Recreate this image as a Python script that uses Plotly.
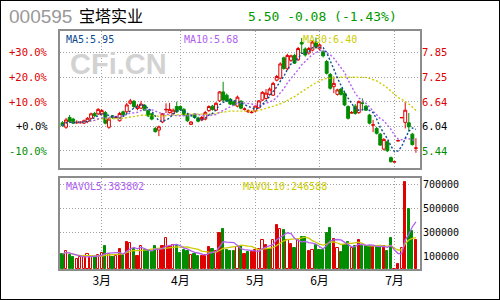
import plotly.graph_objects as go
import pandas as pd

W, H = 500, 300

# ---------------- data ----------------
opens = [6.12, 6.01, 6.25, 6.21, 6.12, 6.12, 6.11, 6.15, 6.23, 6.35,
         6.34, 6.34, 6.37, 6.01, 6.29, 6.25, 6.17, 6.39, 6.39, 6.60,
         6.65, 6.47, 6.48, 6.55, 6.42, 6.34, 5.98, 5.94, 6.14, 6.44,
         6.37, 6.35, 6.52, 6.52, 6.45, 6.31, 6.08, 6.33, 6.24, 6.19,
         6.21, 6.42, 6.53, 6.43, 6.66, 6.88, 6.80, 6.70, 6.64, 6.53,
         6.65, 6.45, 6.39, 6.37, 6.41, 6.49, 6.68, 6.72, 6.82, 6.80,
         7.17, 7.22, 7.72, 7.45, 7.66, 7.78, 7.67, 8.10, 7.94, 7.84,
         7.91, 8.11, 7.94, 7.87, 7.63, 7.31, 7.01, 6.82, 6.95, 6.85,
         6.52, 6.36, 6.53, 6.37, 6.61, 6.53, 6.31, 6.06, 5.98, 5.84,
         5.47, 5.65, 5.26, 5.15, 5.67, 6.24, 6.13, 6.12, 5.84, 5.49]
highs = [6.16, 6.24, 6.31, 6.24, 6.18, 6.16, 6.20, 6.26, 6.37, 6.39,
         6.48, 6.46, 6.41, 6.25, 6.31, 6.29, 6.39, 6.42, 6.61, 6.71,
         6.68, 6.58, 6.66, 6.58, 6.43, 6.36, 6.02, 6.05, 6.36, 6.60,
         6.61, 6.47, 6.64, 6.55, 6.48, 6.34, 6.16, 6.36, 6.27, 6.29,
         6.41, 6.55, 6.56, 6.63, 6.90, 7.13, 6.84, 6.73, 6.67, 6.79,
         6.68, 6.50, 6.45, 6.42, 6.56, 6.68, 6.90, 6.95, 6.99, 7.13,
         7.30, 7.61, 7.75, 7.82, 7.80, 7.82, 7.99, 8.21, 7.98, 7.99,
         8.15, 8.22, 8.07, 7.91, 7.67, 7.35, 7.26, 6.96, 6.98, 6.88,
         6.55, 6.41, 6.58, 6.67, 6.72, 6.56, 6.34, 6.19, 6.02, 5.87,
         5.74, 5.68, 5.29, 5.16, 5.68, 6.25, 6.64, 6.36, 5.87, 5.74]
lows = [6.02, 5.97, 6.11, 6.09, 6.09, 6.10, 6.09, 6.11, 6.20, 6.26,
        6.31, 6.30, 6.08, 5.97, 6.22, 6.22, 6.15, 6.29, 6.36, 6.57,
        6.48, 6.43, 6.46, 6.41, 6.26, 6.18, 5.88, 5.79, 6.11, 6.36,
        6.35, 6.32, 6.36, 6.42, 6.29, 6.14, 6.07, 6.22, 6.13, 6.16,
        6.18, 6.39, 6.42, 6.41, 6.63, 6.64, 6.63, 6.56, 6.53, 6.50,
        6.45, 6.42, 6.36, 6.35, 6.39, 6.47, 6.66, 6.69, 6.79, 6.78,
        7.14, 7.19, 7.43, 7.42, 7.62, 7.57, 7.64, 7.84, 7.75, 7.80,
        7.88, 7.94, 7.90, 7.73, 7.31, 6.94, 6.85, 6.79, 6.79, 6.53,
        6.20, 6.34, 6.32, 6.34, 6.43, 6.41, 6.08, 5.89, 5.83, 5.55,
        5.44, 5.40, 5.14, 5.15, 5.67, 6.24, 5.98, 5.90, 5.56, 5.38]
closes = [6.05, 6.19, 6.15, 6.11, 6.13, 6.13, 6.17, 6.23, 6.34, 6.29,
          6.45, 6.42, 6.11, 6.21, 6.25, 6.26, 6.35, 6.31, 6.56, 6.66,
          6.52, 6.53, 6.58, 6.43, 6.29, 6.21, 5.90, 6.02, 6.34, 6.45,
          6.45, 6.43, 6.39, 6.45, 6.31, 6.17, 6.14, 6.25, 6.16, 6.25,
          6.37, 6.52, 6.45, 6.60, 6.88, 6.68, 6.66, 6.58, 6.56, 6.75,
          6.48, 6.46, 6.41, 6.38, 6.53, 6.66, 6.87, 6.85, 6.95, 7.09,
          7.26, 7.57, 7.46, 7.78, 7.77, 7.59, 7.95, 8.06, 7.79, 7.95,
          8.11, 7.99, 8.04, 7.77, 7.34, 6.97, 7.09, 6.93, 6.82, 6.56,
          6.23, 6.37, 6.35, 6.64, 6.60, 6.43, 6.11, 6.07, 5.86, 5.57,
          5.71, 5.43, 5.16, 5.16, 5.68, 6.25, 6.43, 6.02, 5.58, 5.50]
volumes = [121000, 148000, 115000, 93000, 77000, 98000, 98000, 121000, 98000, 93000,
           110000, 127000, 188000, 121000, 98000, 104000, 163000, 115000, 221000, 213000,
           165000, 104000, 188000, 157000, 148000, 138000, 188000, 165000, 188000, 254000,
           177000, 198000, 188000, 132000, 154000, 148000, 115000, 121000, 107000, 104000,
           115000, 179000, 165000, 148000, 298000, 329000, 157000, 148000, 148000, 179000,
           190000, 121000, 138000, 138000, 157000, 163000, 238000, 198000, 165000, 238000,
           363000, 329000, 321000, 238000, 202000, 169000, 238000, 260000, 260000, 148000,
           154000, 198000, 157000, 157000, 298000, 338000, 243000, 171000, 138000, 198000,
           221000, 171000, 185000, 238000, 185000, 185000, 185000, 182000, 182000, 182000,
           185000, 148000, 254000, 0, 37000, 171000, 721000, 496000, 315000, 240000]
# R = red filled, H = red hollow, G = green filled
vol_kind = list("GHGGHHHHHG" "HHGHGHRGRH" "GRHGGGGHRH" "RHGGGGHGGR" "RRGHRGGGGH"
                "GRGRRHHRGH" "RHGHRGHGGR" "HGGGGGRHGG" "GHGRGGGRGG" "RGGRRHRGGR")

month_ticks = [11, 33, 54, 72, 93]
month_labels = ["3月", "4月", "5月", "6月", "7月"]

base_price = 6.04
pct_ticks = [0.30, 0.20, 0.10, 0.0, -0.10]
pct_labels = ["+30.0%", "+20.0%", "+10.0%", "+0.0%", "-10.0%"]
vol_ticks = [700000, 500000, 300000, 100000]
vol_grid = [700000, 500000, 300000]

code = "000595"
name = "宝塔实业"
quote = "5.50 -0.08 (-1.43%)"
ma_legend = ["MA5:5.95", "MA10:5.68", "MA30:6.40"]
vol_legend = ["MAVOL5:383802", "MAVOL10:246588"]

# ---------------- styles ----------------
RED = "#E00000"
GREEN = "#008C00"
MA5C = "#0A4A90"
MA10C = "#B060F0"
MA30C = "#CCCC00"
GRID = "#A0A0A0"
FRAME = "#8C8C8C"
MONO = "DejaVu Sans Mono"
CJK = "Noto Sans CJK SC"


def px(x):
    return x / W


def py(y):
    return 1 - y / H


idx = list(range(len(closes)))
cs = pd.Series(closes)
vs = pd.Series(volumes)
ma5 = cs.rolling(5, min_periods=1).mean()
ma10 = cs.rolling(10, min_periods=1).mean()
ma30 = cs.rolling(30, min_periods=1).mean()
mv5 = vs.rolling(5, min_periods=1).mean()
mv10 = vs.rolling(10, min_periods=1).mean()

fig = go.Figure()
fig.add_trace(go.Candlestick(
    x=idx, open=opens, high=highs, low=lows, close=closes,
    increasing=dict(line=dict(color=RED, width=1), fillcolor="white"),
    decreasing=dict(line=dict(color=GREEN, width=1), fillcolor=GREEN),
    whiskerwidth=0, xaxis="x", yaxis="y", hoverinfo="skip"))
for s, c in [(ma30, MA30C), (ma10, MA10C), (ma5, MA5C)]:
    fig.add_trace(go.Scatter(x=idx, y=s, mode="lines", xaxis="x", yaxis="y",
                             line=dict(color=c, width=1.4, dash="2px,2px"),
                             hoverinfo="skip"))

bar_fill = [RED if k == "R" else ("white" if k == "H" else GREEN) for k in vol_kind]
bar_line = [GREEN if k == "G" else RED for k in vol_kind]
fig.add_trace(go.Bar(x=idx, y=volumes, xaxis="x2", yaxis="y2", width=0.62,
                     marker=dict(color=bar_fill, line=dict(color=bar_line, width=1)),
                     hoverinfo="skip"))
fig.add_trace(go.Scatter(x=idx, y=mv10, mode="lines", xaxis="x2", yaxis="y2",
                         line=dict(color=MA30C, width=1.3), hoverinfo="skip"))
fig.add_trace(go.Scatter(x=idx, y=mv5, mode="lines", xaxis="x2", yaxis="y2",
                         line=dict(color=MA10C, width=1.3), hoverinfo="skip"))

xdom = [px(60), px(420)]
xr = [-0.7, 100.14]
axis_common = dict(showline=True, mirror=True, linecolor=FRAME, linewidth=1.5,
                   zeroline=False, ticks="", showgrid=True, gridcolor=GRID,
                   gridwidth=1, griddash="1px,2px", fixedrange=True)

price_ticks = [base_price * (1 + p) for p in pct_ticks]

fig.update_layout(
    width=W, height=H, margin=dict(l=0, r=0, t=0, b=0),
    paper_bgcolor="white", plot_bgcolor="white", showlegend=False,
    boxgap=0.1, boxgroupgap=0.1, bargap=0,
    xaxis=dict(domain=xdom, range=xr, anchor="y", tickvals=month_ticks,
               showticklabels=False, rangeslider=dict(visible=False), **axis_common),
    xaxis2=dict(domain=xdom, range=xr, anchor="y2", matches="x", tickvals=month_ticks,
                ticktext=month_labels, showticklabels=True,
                tickfont=dict(family=CJK, size=12, color="black"), **axis_common),
    yaxis=dict(domain=[py(168), py(31)], range=[5.005, 8.382], anchor="x",
               tickvals=price_ticks, showticklabels=False, **axis_common),
    yaxis2=dict(domain=[py(269), py(178)], range=[-4200, 754000], anchor="x2",
                tickvals=vol_grid, showticklabels=False, **axis_common),
)

ann = []
for p, lab, v in zip(pct_ticks, pct_labels, price_ticks):
    col = RED if p > 0 else ("black" if p == 0 else GREEN)
    ann.append(dict(x=px(50), xref="paper", xanchor="right", y=v, yref="y",
                    yanchor="middle", text=lab, showarrow=False,
                    font=dict(family=MONO, size=10.5, color=col)))
    ann.append(dict(x=px(420), xref="paper", xanchor="left", y=v, yref="y",
                    yanchor="middle", text=f"{v:.2f}", showarrow=False,
                    font=dict(family=MONO, size=10.5, color=col)))
for v in vol_ticks:
    ann.append(dict(x=px(421), xref="paper", xanchor="left", y=v, yref="y2",
                    yanchor="middle", text=str(v), showarrow=False,
                    font=dict(family=MONO, size=10, color="black")))

ann.append(dict(x=px(7), y=py(16), xref="paper", yref="paper", xanchor="left",
                yanchor="middle", text=code, showarrow=False,
                font=dict(family="Liberation Sans", size=19, color="#999999")))
ann.append(dict(x=px(77), y=py(15), xref="paper", yref="paper", xanchor="left",
                yanchor="middle", text=name, showarrow=False,
                font=dict(family=CJK, size=16, color="black")))
ann.append(dict(x=px(246), y=py(16), xref="paper", yref="paper", xanchor="left",
                yanchor="middle", text=quote, showarrow=False,
                font=dict(family=MONO, size=13, color="#009900")))

for t, xp, c in zip(ma_legend, [64, 182, 301], [MA5C, MA10C, MA30C]):
    ann.append(dict(x=px(xp), y=py(39), xref="paper", yref="paper", xanchor="left",
                    yanchor="middle", text=t, showarrow=False,
                    font=dict(family=MONO, size=10, color=c)))
for t, xp, c in zip(vol_legend, [64, 241], [MA10C, MA30C]):
    ann.append(dict(x=px(xp), y=py(186), xref="paper", yref="paper", xanchor="left",
                    yanchor="middle", text=t, showarrow=False,
                    font=dict(family=MONO, size=10, color=c)))

ann.append(dict(x=px(68), y=py(64), xref="paper", yref="paper", xanchor="left",
                yanchor="middle", text="<b>CFi.CN</b>", showarrow=False,
                font=dict(family="Liberation Sans", size=29, color="#D2D2D2")))

fig.update_layout(annotations=ann)
fig.add_shape(type="rect", xref="paper", yref="paper", x0=0, y0=0, x1=1, y1=1,
              line=dict(color="black", width=2), layer="above")

fig.write_html("out.html")
